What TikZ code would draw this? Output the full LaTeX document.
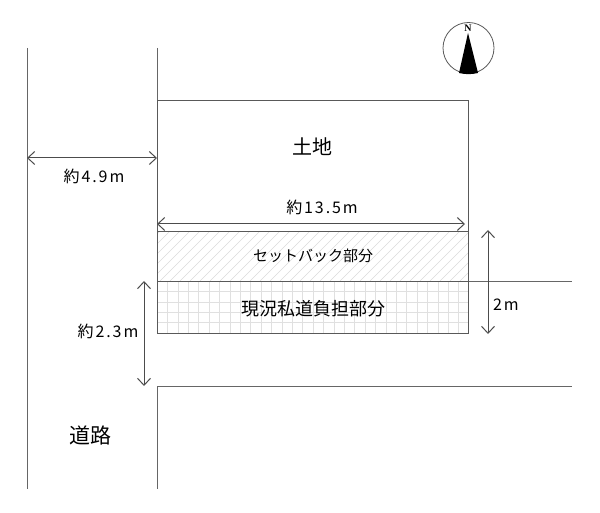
\documentclass[tikz,border=0pt]{standalone}
\usepackage{fontspec}
\setmainfont{Noto Sans CJK JP}
\newfontfamily\widefont[LetterSpace=12]{Noto Sans CJK JP}
\newfontfamily\northfont{Liberation Serif}
\usetikzlibrary{arrows.meta}

\begin{document}
\begin{tikzpicture}
	  [x=1pt,y=-1pt,line width=.8pt,every path/.style={>={Straight Barb[length=7pt,width=13pt]}},
	   wall/.style={draw=black!60},
	   plot/.style={draw=black!65,inner sep=0pt,anchor=north west},
	   dim/.style={<->,draw=black!70,line width=1pt},
	   lbl/.style={inner sep=0pt,font=\widefont\fontsize{16}{16}\selectfont}]
	  \useasboundingbox (0,0) rectangle (600,513);

	  % hatching of the setback strip
	  \begin{scope}
	    \clip (157,231) rectangle (468,281);
	    \foreach \i in {0,...,36}
	      \draw[black!14,line width=.5pt] (\i*10+110,281) -- (\i*10+160,231);
	  \end{scope}
	  % grid of the private road share
	  \foreach \i in {1,...,29}
	    \draw[black!12,line width=.5pt] (\i*10.4+157,281) -- (\i*10.4+157,333);
	  \foreach \i in {1,...,4}
	    \draw[black!12,line width=.5pt] (157,\i*10.4+281) -- (468,\i*10.4+281);

	  \node[plot,minimum width=311pt,minimum height=131pt] (land) at (157,100) {};
	  \node[plot,minimum width=311pt,minimum height=50pt] (setback) at (157,231) {};
	  \node[plot,minimum width=311pt,minimum height=52pt] (share) at (157,281) {};

	  \coordinate (w1) at (27,48);
	  \coordinate (w2) at (27,489);
	  \coordinate (w3) at (157,48);
	  \coordinate (w4) at (157,386);
	  \coordinate (w5) at (157,489);
	  \coordinate (w6) at (572,386);
	  \coordinate (w7) at (572,281);
	  \coordinate (d1) at (27,158);
	  \coordinate (d2) at (157,158);
	  \coordinate (d3) at (157,224);
	  \coordinate (d4) at (465,224);
	  \coordinate (d5) at (144,281);
	  \coordinate (d6) at (144,386);
	  \coordinate (d7) at (488,230);
	  \coordinate (d8) at (488,334);

	  \foreach \from/\to in {w1/w2,w3/land.north west,w4/w5,w4/w6,share.north east/w7}
	    \draw[wall] (\from) -- (\to);
	  \foreach \from/\to in {d1/d2,d3/d4,d5/d6,d7/d8}
	    \draw[dim] (\from) -- (\to);

	  \node[inner sep=0pt,font=\fontsize{20}{20}\selectfont] (title) at (312.5,147) {土地};
	  \node[inner sep=0pt,font=\fontsize{15}{16}\selectfont] (back) at (313,256) {セットバック部分};
	  \node[inner sep=0pt,font=\fontsize{18}{18}\selectfont] (priv) at (313,309) {現況私道負担部分};
	  \node[inner sep=0pt,font=\fontsize{21}{21}\selectfont] (road) at (90,435) {道路};
	  \node[lbl] (w49) at (94,176) {約4.9m};
	  \node[lbl] (w135) at (322,207) {約13.5m};
	  \node[lbl] (w23) at (108,331) {約2.3m};
	  \node[lbl] (w2m) at (506,305) {2m};

	  % north mark
	  \node[draw=black!65,circle,minimum size=51pt,inner sep=0pt] (north) at (468.5,48) {};
	  \coordinate (n1) at (468,33);
	  \coordinate (n2) at (459,73);
	  \coordinate (n3) at (478,73);
	  \fill (n1) -- (n2) to[bend right=12] (n3) -- cycle;
	  \node[inner sep=0pt,font=\northfont\bfseries\fontsize{10}{10}\selectfont] (nlabel) at (468,28) {N};
	\end{tikzpicture}
\end{document}
